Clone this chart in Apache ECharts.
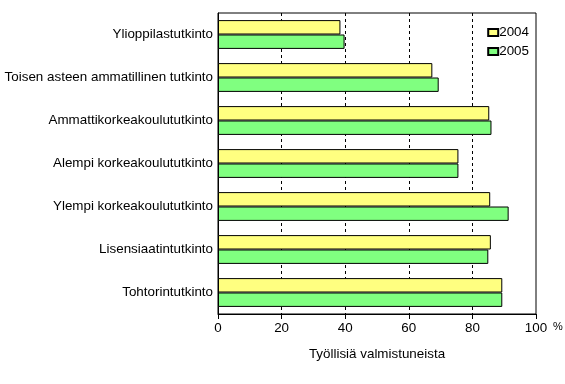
<!DOCTYPE html>
<html><head><meta charset="utf-8">
<script src="https://cdn.jsdelivr.net/npm/echarts@6/dist/echarts.min.js"></script>
<style>html,body{margin:0;padding:0;background:#fff}#c{width:565px;height:384px}</style>
</head><body><div id="c"></div>
<script>
const categories = ['Ylioppilastutkinto','Toisen asteen ammatillinen tutkinto','Ammattikorkeakoulututkinto','Alempi korkeakoulututkinto','Ylempi korkeakoulututkinto','Lisensiaatintutkinto','Tohtorintutkinto'];
const values2004 = [38.5, 67.4, 85.3, 75.6, 85.6, 85.8, 89.4];
const values2005 = [39.8, 69.4, 86.0, 75.6, 91.4, 85.0, 89.4];
const seriesNames = ['2004','2005'];
const xTicks = [0, 20, 40, 60, 80, 100];

const font = 'Liberation Sans, Arial, sans-serif';
const fs = 13.4;
const chart = echarts.init(document.getElementById('c'), null, {renderer:'canvas'});
chart.setOption({
  animation:false,
  backgroundColor:'#fff',
  textStyle:{fontFamily:font, color:'#000'},
  grid:{left:218, right:29, top:13, bottom:70, show:true, borderColor:'#000', borderWidth:1},
  legend:{
    orient:'vertical', right:31, top:21, itemWidth:10, itemHeight:7, itemGap:6,
    textStyle:{fontFamily:font, fontSize:fs, color:'#000', padding:[0,0,0,-4]},
    icon:'rect', data:seriesNames
  },
  xAxis:{
    type:'value', min:xTicks[0], max:xTicks[xTicks.length-1], interval:20,
    name:'Työllisiä valmistuneista', nameLocation:'middle', nameGap:34,
    nameTextStyle:{fontFamily:font, fontSize:fs, color:'#000'},
    axisLine:{show:true, lineStyle:{color:'#000', width:1}},
    axisTick:{show:true, length:5, lineStyle:{color:'#000'}},
    axisLabel:{fontFamily:font, fontSize:fs, color:'#000', margin:8},
    splitLine:{show:true, showMinLine:false, showMaxLine:false, lineStyle:{color:'#000', type:[3,3], width:1}}
  },
  yAxis:{
    type:'category', data:categories, inverse:true,
    axisLine:{show:true, lineStyle:{color:'#000', width:1}},
    axisTick:{show:false},
    axisLabel:{fontFamily:font, fontSize:fs, color:'#000', margin:5},
    splitLine:{show:false}
  },
  series:[
    {name:seriesNames[0], type:'bar', data:values2004, barGap:'0%', barCategoryGap:'33%',
     itemStyle:{color:'#FFFF80', borderColor:'#000', borderWidth:1}},
    {name:seriesNames[1], type:'bar', data:values2005, barGap:'0%', barCategoryGap:'33%',
     itemStyle:{color:'#80FF80', borderColor:'#000', borderWidth:1}}
  ],
  graphic:[{type:'text', left:553, top:321, style:{text:'%', font:'11px '+font, fill:'#000'}}]
});
</script></body></html>
